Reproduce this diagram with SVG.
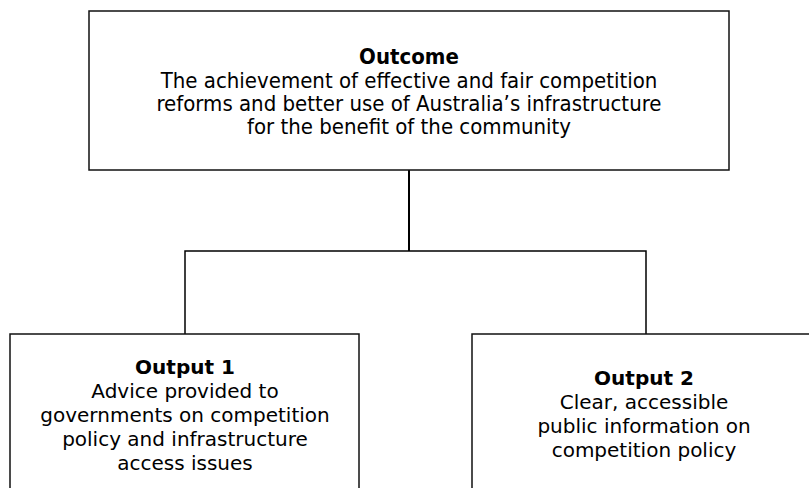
<svg xmlns="http://www.w3.org/2000/svg" width="809" height="488" viewBox="0 0 809 488">
<style>
.box{fill:#fff;stroke:#111;stroke-width:1.5}
.con{fill:none;stroke:#000;stroke-width:1.5}
.t{font-family:"DejaVu Sans Condensed","DejaVu Sans",sans-serif;font-stretch:condensed;font-size:22px;text-anchor:middle;fill:#000}
.b{font-weight:bold}
.s{font-family:"DejaVu Sans",Verdana,sans-serif;font-size:20px;text-anchor:middle;fill:#000}
</style>
<rect width="809" height="488" fill="#fff"/>
<g id="connectors">
<path class="con" d="M409,170 V251" style="stroke-width:2"/>
<path class="con" d="M185,334 V251 H646 V334"/>
</g>
<g id="outcome">
<rect class="box" x="89" y="11" width="640" height="159"/>
<text class="t b" x="409" y="64">Outcome</text>
<text class="t" x="409" y="88">The achievement of effective and fair competition</text>
<text class="t" x="409" y="111">reforms and better use of Australia’s infrastructure</text>
<text class="t" x="409" y="134">for the benefit of the community</text>
</g>
<g id="output1">
<rect class="box" x="10" y="334" width="349" height="160"/>
<text class="s b" x="185" y="374">Output 1</text>
<text class="s" x="185" y="398">Advice provided to</text>
<text class="s" x="185" y="422">governments on competition</text>
<text class="s" x="185" y="446">policy and infrastructure</text>
<text class="s" x="185" y="470">access issues</text>
</g>
<g id="output2">
<rect class="box" x="472" y="334" width="344" height="160"/>
<text class="s b" x="644" y="385">Output 2</text>
<text class="s" x="644" y="409">Clear, accessible</text>
<text class="s" x="644" y="433">public information on</text>
<text class="s" x="644" y="457">competition policy</text>
</g>
</svg>
